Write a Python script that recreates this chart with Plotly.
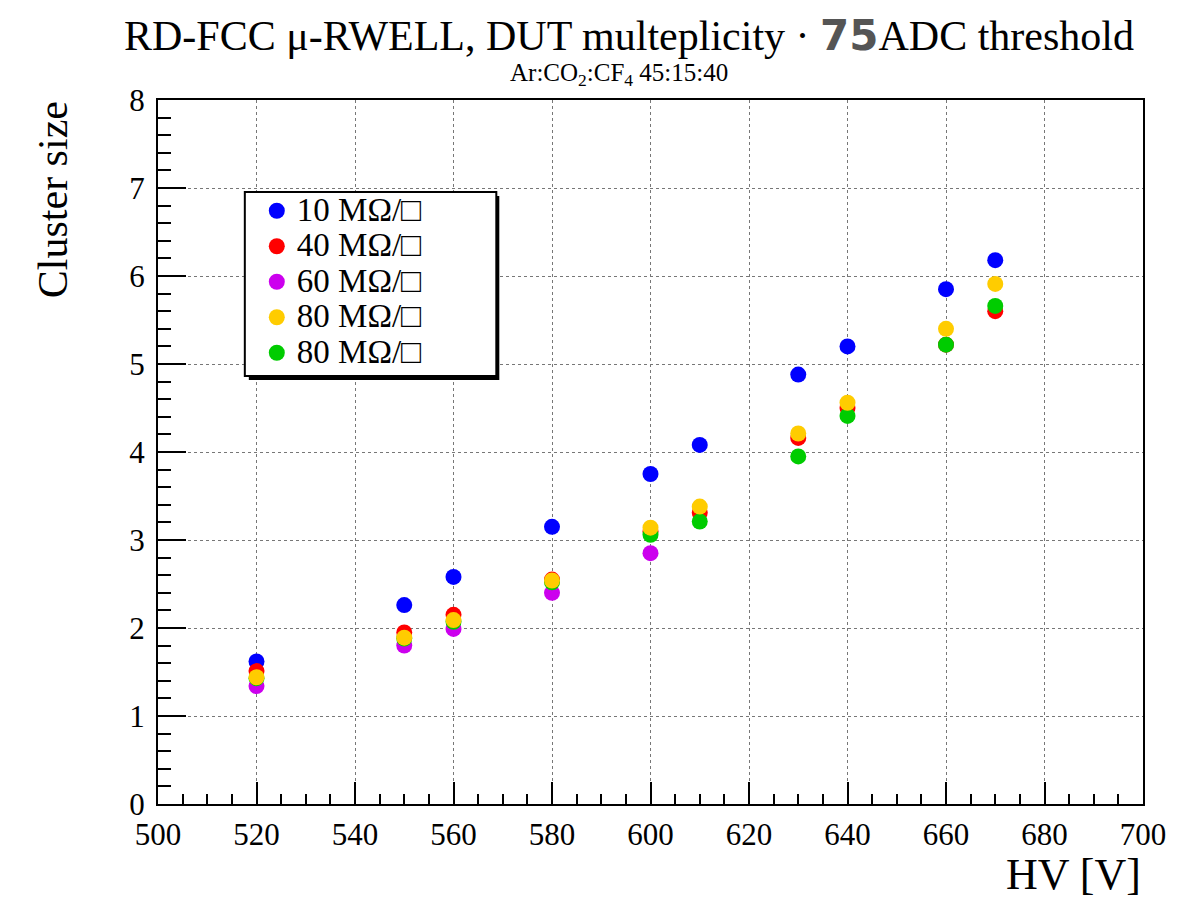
import plotly.graph_objects as go

hv_blue = [520, 550, 560, 580, 600, 610, 630, 640, 660, 670]
cs_blue = [1.62, 2.26, 2.58, 3.15, 3.75, 4.08, 4.88, 5.20, 5.85, 6.18]

hv_red = [520, 550, 560, 580, 600, 610, 630, 640, 660, 670]
cs_red = [1.51, 1.95, 2.15, 2.55, 3.10, 3.31, 4.16, 4.50, 5.22, 5.60]

hv_mag = [520, 550, 560, 580, 600]
cs_mag = [1.34, 1.80, 1.99, 2.40, 2.85]

hv_yel = [520, 550, 560, 580, 600, 610, 630, 640, 660, 670]
cs_yel = [1.44, 1.89, 2.09, 2.54, 3.14, 3.38, 4.21, 4.56, 5.40, 5.91]

hv_grn = [520, 550, 560, 580, 600, 610, 630, 640, 660, 670]
cs_grn = [1.43, 1.88, 2.07, 2.52, 3.06, 3.21, 3.95, 4.41, 5.22, 5.66]

labels = ["10 MΩ/□", "40 MΩ/□", "60 MΩ/□", "80 MΩ/□", "80 MΩ/□"]

SERIF = "Liberation Serif"

# plot-area geometry (pixels) used only for placing paper-referenced decorations
L, T, W, H = 158, 100, 987, 704


def px(x):
    return (x - L) / W


def py(y):
    return (T + H - y) / H


fig = go.Figure()
series = [
    (hv_blue, cs_blue, labels[0], "#0000ff", 1),
    (hv_red, cs_red, labels[1], "#ff0000", 2),
    (hv_mag, cs_mag, labels[2], "#cc00ee", 3),
    (hv_grn, cs_grn, labels[4], "#00cc00", 5),
    (hv_yel, cs_yel, labels[3], "#ffcc00", 4),
]
for x, y, name, col, rank in series:
    fig.add_trace(go.Scatter(
        x=x, y=y, mode="markers",
        name="<span style='font-size:33px'>" + name + "</span>",
        legendrank=rank,
        marker=dict(color=col, size=16, line=dict(width=0)),
    ))

axis_common = dict(
    showline=True, linecolor="black", linewidth=2, mirror=True,
    ticks="inside", tickcolor="black", tickwidth=2,
    showgrid=True, gridcolor="#777777", griddash="dot", gridwidth=1,
    zeroline=False,
)

fig.update_xaxes(
    range=[500, 700], dtick=20, tick0=500, ticklen=22,
    minor=dict(dtick=5, ticks="inside", ticklen=10, tickcolor="black", tickwidth=2, showgrid=False),
    ticklabelstandoff=2,
    tickfont=dict(family=SERIF, size=31, color="black"),
    **axis_common,
)
fig.update_yaxes(
    range=[0, 8], dtick=1, tick0=0, ticklen=28,
    minor=dict(dtick=0.2, ticks="inside", ticklen=13, tickcolor="black", tickwidth=2, showgrid=False),
    ticklabelstandoff=5,
    tickfont=dict(family=SERIF, size=31, color="black"),
    **axis_common,
)

fig.update_layout(
    width=1178, height=899,
    margin=dict(l=L, r=1178 - L - W, t=T, b=899 - T - H),
    paper_bgcolor="white", plot_bgcolor="white",
    showlegend=True,
    legend=dict(
        x=px(257), y=py(188), xanchor="left", yanchor="top",
        bgcolor="rgba(0,0,0,0)", borderwidth=0,
        font=dict(family=SERIF, size=25, color="black"),
        itemsizing="trace", tracegroupgap=0,
    ),
    shapes=[
        # legend box shadow and frame
        dict(type="rect", xref="paper", yref="paper",
             x0=px(249), x1=px(500), y0=py(380), y1=py(196),
             fillcolor="black", line=dict(width=0), layer="above"),
        dict(type="rect", xref="paper", yref="paper",
             x0=px(245), x1=px(497), y0=py(376), y1=py(192),
             fillcolor="white", line=dict(color="black", width=2), layer="above"),
    ],
    annotations=[
        dict(text="RD-FCC μ-RWELL, DUT multeplicity · <span style='color:#555555;font-family:DejaVu Sans'><b>75</b></span>ADC threshold",
             xref="paper", yref="paper", x=px(630), y=1.0, yshift=65,
             xanchor="center", yanchor="middle", showarrow=False,
             font=dict(family=SERIF, size=42, color="black")),
        dict(text="Ar:CO<sub>2</sub>:CF<sub>4</sub> 45:15:40",
             xref="paper", yref="paper", x=px(620), y=1.0, yshift=26,
             xanchor="center", yanchor="middle", showarrow=False,
             font=dict(family=SERIF, size=25, color="black")),
        dict(text="Cluster size", textangle=-90,
             xref="paper", yref="paper", x=px(53), y=py(200),
             xanchor="center", yanchor="middle", showarrow=False,
             font=dict(family=SERIF, size=42, color="black")),
        dict(text="HV [V]",
             xref="paper", yref="paper", x=1.0, y=0.0, yshift=-70,
             xanchor="right", yanchor="middle", showarrow=False,
             font=dict(family=SERIF, size=44, color="black")),
    ],
)

fig.write_html("out.html")
